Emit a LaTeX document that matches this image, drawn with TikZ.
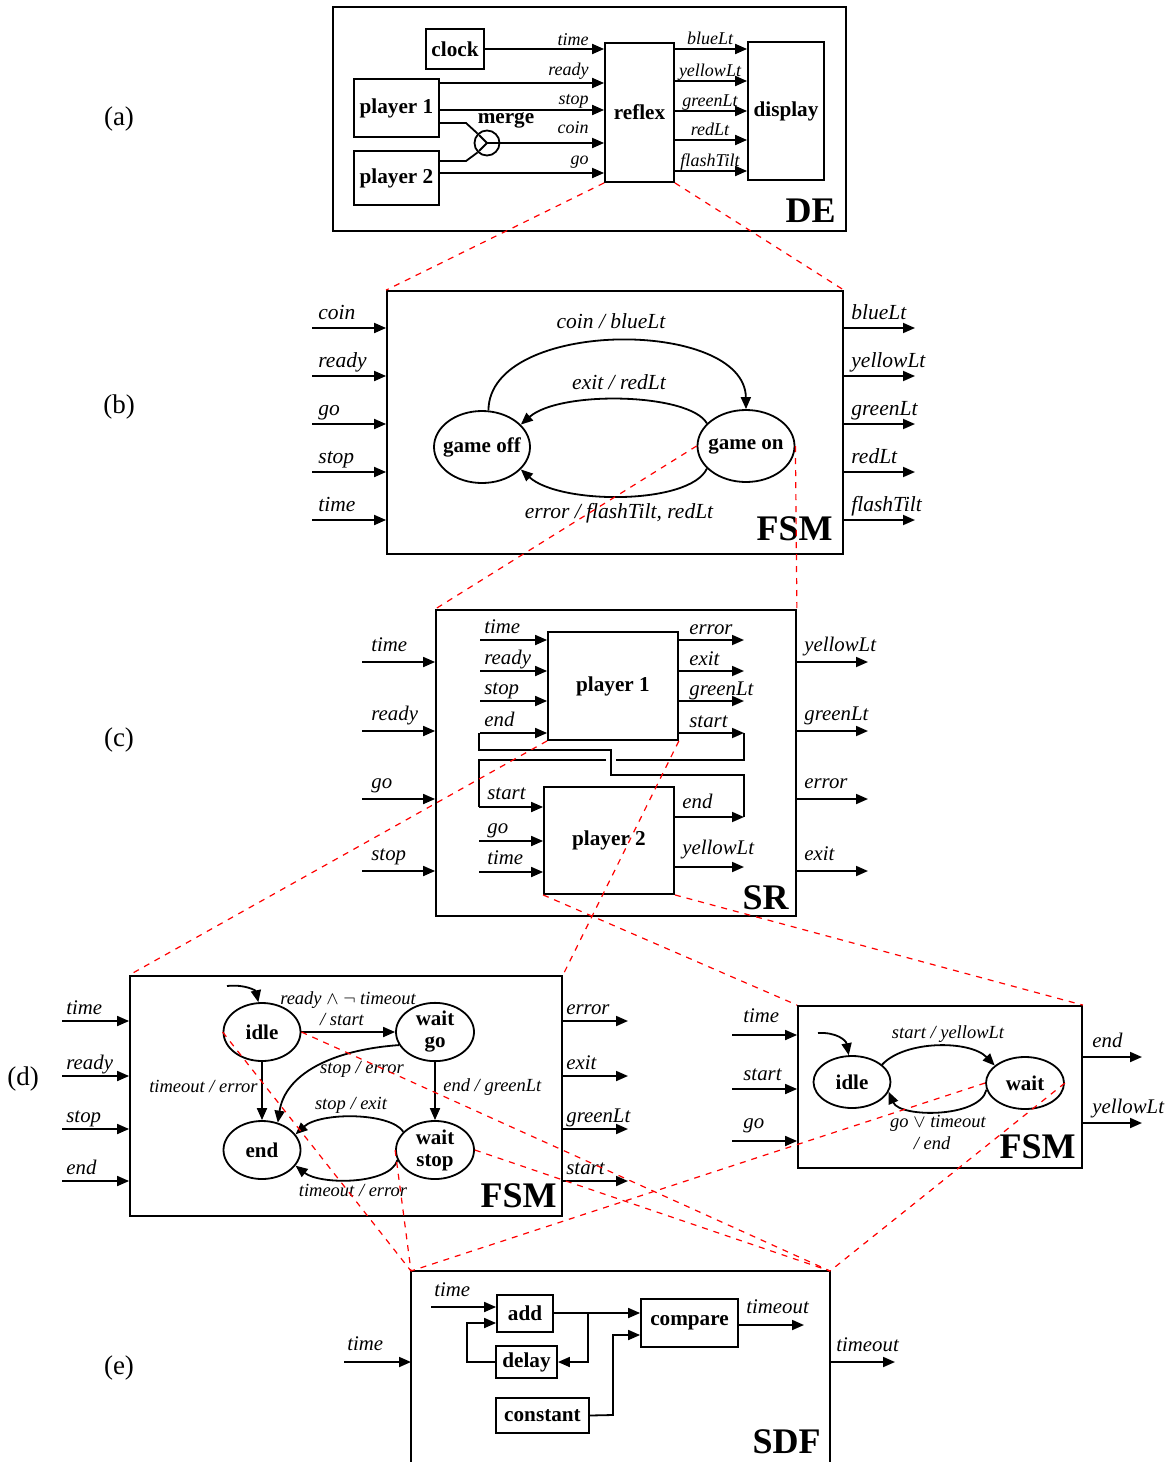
\documentclass[tikz,border=0pt]{standalone}
\usepackage{fontspec}
\setmainfont{Liberation Serif}
\usetikzlibrary{arrows.meta,shapes.geometric}
\begin{document}
\begin{tikzpicture}[x=0.5pt,y=-0.5pt,
  ln/.style={line width=0.9pt},
  arr/.style={line width=0.9pt,-{Triangle[length=6pt,width=5pt]}},
  bx/.style={draw,line width=0.9pt,inner sep=0pt,font=\fontsize{10.6}{11}\selectfont\bfseries},
  st/.style={draw,ellipse,line width=0.9pt,inner sep=0pt,font=\fontsize{10.5}{11}\selectfont\bfseries,align=center},
  pl/.style={inner sep=0pt,font=\fontsize{10.4}{12}\selectfont\itshape},
  plb/.style={inner sep=0pt,font=\fontsize{10.75}{12}\selectfont\itshape},
  pla/.style={inner sep=0pt,font=\fontsize{9}{11}\selectfont\itshape},
  tl/.style={inner sep=0pt,font=\fontsize{9.25}{11}\selectfont\itshape,align=center},
  tlb/.style={inner sep=0pt,font=\fontsize{10.75}{12}\selectfont\itshape},
  big/.style={inner sep=0pt,font=\fontsize{18}{20}\selectfont\bfseries},
  pan/.style={inner sep=0pt,font=\fontsize{13.5}{15}\selectfont},
  zoomln/.style={red,line width=0.6pt,dash pattern=on 3pt off 3pt},
  frame/.style={draw,line width=0.9pt,inner sep=0pt},
]
\useasboundingbox (0,0) rectangle (1173,1462);

% ================= (a) =================
\node[pan] (la) at (119,119) {(a)};
\node[frame,minimum width=256.5pt,minimum height=112pt] (de) at (589.5,119) {};
\node[big,anchor=base east] (detxt) at (836,222) {DE};
\node[bx,minimum width=29pt,minimum height=20pt] (clock) at (455,49) {clock};
\node[bx,minimum width=42.5pt,minimum height=29pt] (pl1) at (396.5,108) {player 1};
\node[bx,minimum width=42.5pt,minimum height=27pt] (pl2) at (396.5,178) {player 2};
\node[bx,minimum width=34.5pt,minimum height=69.5pt] (reflex) at (639.5,112.5) {reflex};
\node[bx,minimum width=38pt,minimum height=69pt] (display) at (786,111) {display};
\node[draw,circle,line width=0.9pt,minimum size=12.5pt,inner sep=0pt] (merge) at (487,143) {};
\node[bx,draw=none] (mergetxt) at (506,120) {merge};
\draw[ln] (merge.center) -- +(-8,-8) (merge.center) -- +(-8,8) (merge.center) -- (merge.east);
\draw[ln] (pl1.east |- 0,123) -- (466,123) -- (merge.135);
\draw[ln] (pl2.east |- 0,161) -- (466,161) -- (merge.225);
\draw[arr] (clock.east) -- (reflex.west |- clock.east);
\draw[arr] (pl1.east |- 0,83) -- (reflex.west |- 0,83);
\draw[arr] (pl1.east |- 0,110) -- (reflex.west |- 0,110);
\draw[arr] (merge.east) -- (reflex.west |- merge.east);
\draw[arr] (pl2.east |- 0,173) -- (reflex.west |- 0,173);
\node[pla,anchor=base east] (at1) at (589,45) {time};
\node[pla,anchor=base east] (at2) at (589,75) {ready};
\node[pla,anchor=base east] (at3) at (589,104) {stop};
\node[pla,anchor=base east] (at4) at (589,133) {coin};
\node[pla,anchor=base east] (at5) at (589,164) {go};
\foreach \y/\t [count=\i] in {49/blueLt,81/yellowLt,111/greenLt,140/redLt,171/flashTilt}{
  \draw[arr] (reflex.east |- 0,\y) -- (display.west |- 0,\y);
  \node[pla,anchor=base] (ao\i) at (710,\y-5) {\t};
}

% ================= (b) =================
\node[pan] (lb) at (119,407) {(b)};
\node[frame,minimum width=228pt,minimum height=131.5pt] (fsmb) at (615,422.5) {};
\node[big,anchor=base east] (fsmbtxt) at (833,540) {FSM};
\node[st,inner xsep=-3pt,minimum width=48pt,minimum height=36pt] (goff) at (482,447) {game off};
\node[st,inner xsep=-3pt,minimum width=48.5pt,minimum height=36pt] (gon) at (746,446) {game on};
\foreach \y/\t [count=\i] in {328/coin,376/ready,424/go,472/stop,520/time}{
  \draw[arr] (312,\y) -- (fsmb.west |- 0,\y);
  \node[plb,anchor=base west] (bi\i) at (318,\y-9) {\t};
}
\foreach \y/\t [count=\i] in {328/blueLt,376/yellowLt,424/greenLt,472/redLt,520/flashTilt}{
  \draw[arr] (fsmb.east |- 0,\y) -- (915,\y);
  \node[plb,anchor=base west] (bo\i) at (851,\y-9) {\t};
}
\draw[arr] (goff.80) .. controls (489,318) and (745,318) .. (gon.north);
\draw[arr] (gon.150) .. controls (690,393) and (560,390) .. (goff.30);
\draw[arr] (gon.210) .. controls (690,505) and (560,505) .. (goff.330);
\node[tlb] (tb1) at (611,321) {coin / blueLt};
\node[tlb] (tb2) at (619,382) {exit / redLt};
\node[tlb] (tb3) at (619,513) {error / flashTilt, redLt};

% ================= (c) =================
\node[pan] (lc) at (119,740) {(c)};
\node[frame,minimum width=180pt,minimum height=153pt] (sr) at (616,763) {};
\node[big,anchor=base east] (srtxt) at (789,909) {SR};
\node[bx,minimum width=65pt,minimum height=54pt] (pa) at (613,686) {player 1};
\node[bx,minimum width=65pt,minimum height=53.5pt] (pb) at (609,840.5) {player 2};
\foreach \y/\t [count=\i] in {662/time,731/ready,799/go,871/stop}{
  \draw[arr] (362,\y) -- (sr.west |- 0,\y);
  \node[pl,anchor=base west] (ci\i) at (371,\y-11) {\t};
}
\foreach \y/\t [count=\i] in {662/yellowLt,731/greenLt,799/error,871/exit}{
  \draw[arr] (sr.east |- 0,\y) -- (868,\y);
  \node[pl,anchor=base west] (co\i) at (804,\y-11) {\t};
}
\foreach \y/\t [count=\i] in {640/time,671/ready,701/stop,733/end}{
  \draw[arr] (480,\y) -- (pa.west |- 0,\y);
  \node[pl,anchor=base west] (pai\i) at (484,\y-7) {\t};
}
\foreach \y/\t [count=\i] in {640/error,671/exit,701/greenLt,733/start}{
  \draw[arr] (pa.east |- 0,\y) -- (744,\y);
  \node[pl,anchor=base west] (pao\i) at (689,\y-6) {\t};
}
\foreach \y/\t [count=\i] in {807/start,841/go,872/time}{
  \draw[arr] (479,\y) -- (pb.west |- 0,\y);
  \node[pl,anchor=base west] (pbi\i) at (487,\y-8) {\t};
}
\draw[arr] (pb.east |- 0,817) -- (744,817);
\node[pl,anchor=base west] (pbo1) at (682,808) {end};
\draw[arr] (pb.east |- 0,867) -- (744,867);
\node[pl,anchor=base west] (pbo2) at (682,854) {yellowLt};
\draw[ln] (744,733) -- (744,760) -- (616,760);
\draw[ln] (606,760) -- (479,760) -- (479,807);
\draw[ln] (744,817) -- (744,775) -- (611,775) -- (611,750) -- (479,750) -- (479,733);

% ================= (d) left =================
\node[pan] (ld) at (23,1079) {(d)};
\node[frame,minimum width=216pt,minimum height=120pt] (dl) at (346,1096) {};
\node[big,anchor=base east] (dltxt) at (557,1207) {FSM};
\node[st,minimum width=38.5pt,minimum height=29pt] (idle) at (262,1032) {idle};
\node[st,minimum width=39pt,minimum height=29pt] (wgo) at (435,1032) {wait\\go};
\node[st,minimum width=38.5pt,minimum height=29pt] (dend) at (262,1150) {end};
\node[st,minimum width=39pt,minimum height=29pt] (wstop) at (435,1150) {wait\\stop};
\foreach \y/\t [count=\i] in {1021/time,1076/ready,1129/stop,1181/end}{
  \draw[arr] (62,\y) -- (dl.west |- 0,\y);
  \node[pl,anchor=base west] (dli\i) at (66,\y-7) {\t};
}
\foreach \y/\t [count=\i] in {1021/error,1076/exit,1129/greenLt,1181/start}{
  \draw[arr] (dl.east |- 0,\y) -- (628,\y);
  \node[pl,anchor=base west] (dlo\i) at (566,\y-7) {\t};
}
\coordinate (init1) at (227,986);
\draw[arr] (init1) .. controls (246,984) and (256,991) .. (idle.97);
\draw[arr] (idle.east) -- (wgo.west);
\draw[arr] (idle.south) -- (dend.north);
\draw[arr] (wgo.200) .. controls (330,1050) and (285,1075) .. (dend.60);
\draw[arr] (wgo.south) -- (wstop.north);
\draw[arr] (wstop.150) .. controls (390,1112) and (320,1112) .. (dend.25);
\draw[arr] (wstop.195) .. controls (390,1185) and (320,1185) .. (dend.335);
\node[tl] (td1) at (348,1000) {ready $\wedge$ $\neg$ timeout};
\node[tl] (td2) at (342,1019) {/ start};
\node[tl,anchor=east] (td3) at (258,1086) {timeout / error};
\node[tl] (td4) at (362,1069) {stop / error};
\node[tl,anchor=west] (td5) at (443,1087) {end / greenLt};
\node[tl] (td6) at (351,1105) {stop / exit};
\node[tl] (td7) at (353,1190) {timeout / error};

% ================= (d) right =================
\node[frame,minimum width=142pt,minimum height=81pt] (dr) at (940,1087) {};
\node[big,anchor=base east] (drtxt) at (1076,1158) {FSM};
\node[st,minimum width=38.5pt,minimum height=26pt] (ridle) at (852,1082) {idle};
\node[st,minimum width=39pt,minimum height=26pt] (rwait) at (1025,1083) {wait};
\foreach \y/\t/\d [count=\i] in {1035/time/13,1089/start/9,1141/go/13}{
  \draw[arr] (732,\y) -- (dr.west |- 0,\y);
  \node[pl,anchor=base west] (dri\i) at (743,\y-\d) {\t};
}
\foreach \y/\t [count=\i] in {1057/end,1123/yellowLt}{
  \draw[arr] (dr.east |- 0,\y) -- (1142,\y);
  \node[pl,anchor=base west] (dro\i) at (1092,\y-10) {\t};
}
\coordinate (init2) at (818,1033);
\draw[arr] (init2) .. controls (836,1032) and (846,1040) .. (ridle.97);
\draw[arr] (ridle.30) .. controls (905,1040) and (970,1040) .. (rwait.150);
\draw[arr] (rwait.190) .. controls (980,1118) and (900,1118) .. (ridle.345);
\node[tl] (tr1) at (948,1034) {start / yellowLt};
\node[tl] (tr2) at (938,1123) {go $\vee$ timeout};
\node[tl] (tr3) at (932,1143) {/ end};

% ================= (e) =================
\node[pan] (le) at (119,1368) {(e)};
\coordinate (sdfnw) at (411,1271);
\coordinate (sdfne) at (830,1271);
\draw[ln] (sdfnw |- 0,1480) -- (sdfnw) -- (sdfne) -- (sdfne |- 0,1480);
\node[big,anchor=base east] (sdftxt) at (821,1453) {SDF};
\node[bx,minimum width=28pt,minimum height=18.5pt] (add) at (525,1313.5) {add};
\node[bx,minimum width=30.5pt,minimum height=16pt] (delay) at (526.5,1362) {delay};
\node[bx,minimum width=46.5pt,minimum height=17.5pt] (const) at (542.5,1415.5) {constant};
\node[bx,minimum width=48.5pt,minimum height=24pt] (compare) at (689.5,1323) {compare};
\draw[arr] (344,1362) -- (sdfnw |- 0,1362);
\node[pl,anchor=base west] (ei1) at (347,1350) {time};
\draw[arr] (sdfne |- 0,1362) -- (895,1362);
\node[pl,anchor=base west] (eo1) at (836,1351) {timeout};
\draw[arr] (431,1307) -- (add.west |- 0,1307);
\node[pl,anchor=base west] (ei2) at (434,1296) {time};
\draw[arr] (delay.west) -- (467,1362) -- (467,1323) -- (add.west |- 0,1323);
\draw[arr] (add.east |- 0,1313) -- (compare.west |- 0,1313);
\coordinate (junc) at (588,1313);
\draw[arr] (junc) -- (junc |- delay.east) -- (delay.east);
\draw[arr] (const.east) -- (613,1415) -- (613,1335) -- (compare.west |- 0,1335);
\draw[arr] (compare.east |- 0,1325) -- (804,1325);
\node[pl,anchor=base west] (eo2) at (746,1313) {timeout};

% ================= zoom lines =================
\draw[zoomln] (reflex.south west) -- (fsmb.north west);
\draw[zoomln] (reflex.south east) -- (fsmb.north east);
\draw[zoomln] (gon.west) -- (sr.north west);
\draw[zoomln] (gon.east) -- (sr.north east);
\draw[zoomln] (pa.south west) -- (dl.north west);
\draw[zoomln] (pa.south east) -- (dl.north east);
\draw[zoomln] (pb.south west) -- (dr.north west);
\draw[zoomln] (pb.south east) -- (dr.north east);
\draw[zoomln] (idle.west) -- (sdfnw);
\draw[zoomln] (idle.east) -- (sdfne);
\draw[zoomln] (wstop.west) -- (sdfnw);
\draw[zoomln] (wstop.east) -- (sdfne);
\draw[zoomln] (rwait.west) -- (sdfnw);
\draw[zoomln] (rwait.east) -- (sdfne);
\end{tikzpicture}
\end{document}
